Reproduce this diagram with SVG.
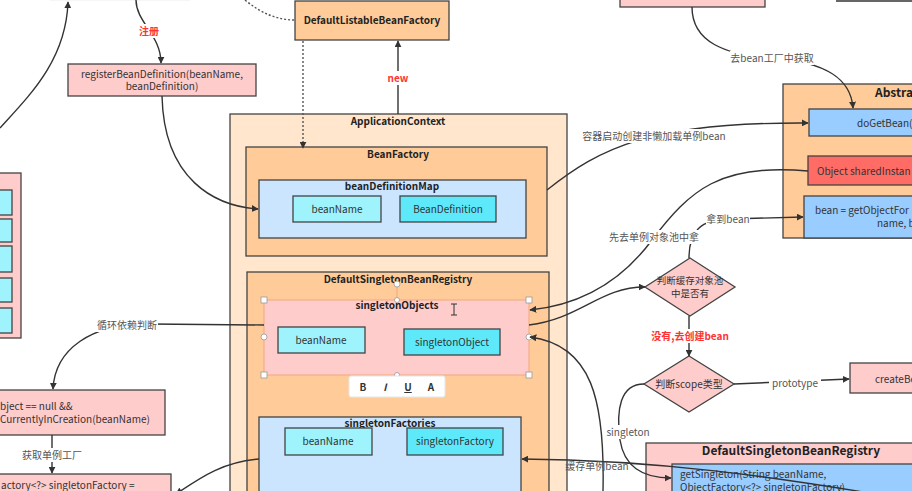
<svg xmlns="http://www.w3.org/2000/svg" width="912" height="491" viewBox="0 0 912 491">
<defs>
<marker id="arr" viewBox="0 0 10 10" refX="9" refY="5" markerWidth="7" markerHeight="7" orient="auto-start-reverse" markerUnits="userSpaceOnUse">
<path d="M0,0 L10,5 L0,10 Z" fill="#333"/>
</marker>
<style>
text{font-family:"Noto Sans CJK SC","Open Sans",sans-serif;font-size:10px;fill:#333}
.b{font-weight:bold;fill:#222}
.red{fill:#ff3333;font-weight:bold}
.lbl{fill:#555}
.box{stroke:#444;stroke-width:1.3}
.ac{fill:#ffe6cc}
.or{fill:#ffcc99}
.lb{fill:#cce5ff}
.pk{fill:#ffcccc}
.cy1{fill:#9ef3fd}
.cy2{fill:#5ee9fb}
.bl{fill:#99ccff}
.rd{fill:#ff6c66}
.e{fill:none;stroke:#333;stroke-width:1.4}
.dot{fill:none;stroke:#555;stroke-width:1.4;stroke-dasharray:2 2}
.bg{fill:#fff}
.h{fill:#fff;stroke:#999;stroke-width:0.8}
.t2{font-size:9.5px}
</style>
</defs>
<rect width="912" height="491" fill="#fff"/>

<!-- nodes -->
<g id="top-left-box"><rect x="50" y="-20" width="140" height="20" fill="#fffbe6" stroke="#eee"/></g>
<g id="top-right-box"><rect class="box pk" x="620" y="-20" width="145" height="27"/></g>

<g id="registerBeanDefinition">
<rect class="box pk" x="68" y="64" width="188" height="32"/>
<text x="162" y="78" text-anchor="middle">registerBeanDefinition(beanName,</text>
<text x="162" y="90" text-anchor="middle">beanDefinition)</text>
</g>

<g id="DefaultListableBeanFactory">
<rect class="box or" x="295" y="1" width="154" height="39"/>
<text class="b" x="372" y="24" text-anchor="middle">DefaultListableBeanFactory</text>
</g>

<g id="ApplicationContext">
<rect class="box ac" x="230" y="114" width="337" height="400"/>
<text class="b" x="398" y="125" text-anchor="middle">ApplicationContext</text>
</g>

<g id="BeanFactory">
<rect class="box or" x="246" y="147" width="301" height="109"/>
<text class="b" x="398" y="158" text-anchor="middle">BeanFactory</text>
</g>

<g id="beanDefinitionMap">
<rect class="box lb" x="259" y="180" width="267" height="58"/>
<text class="b" x="392" y="190" text-anchor="middle">beanDefinitionMap</text>
<rect class="box cy1" x="293" y="196" width="88" height="26"/>
<text x="337" y="213" text-anchor="middle">beanName</text>
<rect class="box cy2" x="400" y="196" width="96" height="26"/>
<text x="448" y="213" text-anchor="middle">BeanDefinition</text>
</g>

<g id="DefaultSingletonBeanRegistry">
<rect class="box or" x="247" y="272" width="302" height="240"/>
<text class="b" x="398" y="283" text-anchor="middle">DefaultSingletonBeanRegistry</text>
</g>

<g id="singletonObjects">
<rect x="264" y="300" width="265" height="75" fill="#ffcccc" stroke="#f0a878" stroke-width="1"/>
<text class="b" x="397" y="309" text-anchor="middle">singletonObjects</text>
<rect class="box cy1" x="278" y="327" width="87" height="26"/>
<text x="321" y="344" text-anchor="middle">beanName</text>
<rect class="box cy2" x="404" y="329" width="96" height="26"/>
<text x="452" y="346" text-anchor="middle">singletonObject</text>
<line x1="397" y1="284" x2="397" y2="300" stroke="#f0a878" stroke-width="1"/>
<circle class="h" cx="397" cy="284" r="3"/>
<rect class="h" x="261" y="297" width="6" height="6"/>
<rect class="h" x="526" y="297" width="6" height="6"/>
<rect class="h" x="261" y="372" width="6" height="6"/>
<rect class="h" x="526" y="372" width="6" height="6"/>
<circle class="h" cx="264" cy="337" r="3"/>
<circle class="h" cx="529" cy="337" r="3"/>
<circle class="h" cx="397" cy="300" r="2.5"/>
<circle class="h" cx="397" cy="375" r="2.5"/>
<path d="M451,304 L457,304 M454,304 L454,315 M451,315 L457,315" stroke="#333" stroke-width="1" fill="none"/>
</g>

<g id="toolbar">
<rect x="349" y="376" width="96" height="21" rx="2" fill="#fff" stroke="#e6e6e6"/>
<text x="363" y="391" text-anchor="middle" style="font-weight:bold;font-size:10px">B</text>
<text x="385" y="391" text-anchor="middle" style="font-style:italic;font-weight:bold;font-size:10px">I</text>
<text x="408" y="391" text-anchor="middle" style="text-decoration:underline;font-weight:bold;font-size:10px">U</text>
<text x="431" y="391" text-anchor="middle" style="font-weight:bold;font-size:10px">A</text>
</g>

<g id="singletonFactories">
<rect class="box lb" x="259" y="417" width="262" height="90"/>
<text class="b" x="390" y="427" text-anchor="middle">singletonFactories</text>
<rect class="box cy1" x="285" y="428" width="87" height="27"/>
<text x="328" y="445" text-anchor="middle">beanName</text>
<rect class="box cy2" x="407" y="428" width="96" height="27"/>
<text x="455" y="445" text-anchor="middle">singletonFactory</text>
</g>

<g id="left-list">
<rect class="box pk" x="-10" y="173" width="31" height="165"/>
<rect class="box cy1" x="-10" y="190" width="22" height="25"/>
<rect class="box cy1" x="-10" y="219" width="22" height="23"/>
<rect class="box cy1" x="-10" y="246" width="22" height="26"/>
<rect class="box cy1" x="-10" y="278" width="22" height="24"/>
<rect class="box cy1" x="-10" y="308" width="22" height="25"/>
</g>

<g id="condition">
<rect class="box pk" x="-10" y="390" width="175" height="45"/>
<text x="0" y="410">bject == null &amp;&amp;</text>
<text x="0" y="423">CurrentlyInCreation(beanName)</text>
</g>

<g id="singletonFactory-box">
<rect class="box pk" x="-10" y="474" width="181" height="30"/>
<text x="1" y="489">actory&lt;?&gt; singletonFactory =</text>
</g>

<g id="AbstractBeanFactory">
<rect class="box or" x="783" y="84" width="140" height="154"/>
<text class="b" x="875" y="97" style="font-size:12px">Abstra</text>
</g>
<g id="doGetBean">
<rect class="box bl" x="809" y="109" width="110" height="27"/>
<text x="857" y="127">doGetBean(</text>
</g>
<g id="sharedInstance">
<rect class="box rd" x="808" y="156" width="110" height="29"/>
<text x="817" y="175">Object sharedInstan</text>
</g>
<g id="getObjectFor">
<rect class="box bl" x="804" y="196" width="115" height="42"/>
<text x="815" y="214">bean = getObjectFor</text>
<text x="877" y="227">name, b</text>
</g>

<g id="diamond-cache">
<path class="box pk" d="M690,258 L735,287 L690,316 L645,287 Z"/>
<text class="t2" x="690" y="284" text-anchor="middle">判断缓存对象池</text>
<text class="t2" x="690" y="297" text-anchor="middle">中是否有</text>
</g>

<g id="diamond-scope">
<path class="box pk" d="M689,356 L734,384 L689,412 L644,384 Z"/>
<text x="689" y="388" text-anchor="middle">判断scope类型</text>
</g>

<g id="createBean">
<rect class="box pk" x="850" y="363" width="70" height="30"/>
<text x="875" y="383">createBe</text>
</g>

<g id="DefaultSingletonBeanRegistry-right">
<rect class="box pk" x="646" y="443" width="280" height="60"/>
<text class="b" x="791" y="455" text-anchor="middle" style="font-size:12px">DefaultSingletonBeanRegistry</text>
<rect class="box bl" x="672" y="464" width="250" height="40"/>
<text x="680" y="478">getSingleton(String beanName,</text>
<text x="680" y="491">ObjectFactory&lt;?&gt; singletonFactory)</text>
</g>

<!-- connectors -->
<g id="connectors">
<path class="e" d="M0,128 C30,95 66,60 68,2" marker-end="url(#arr)"/>
<path class="e" d="M136,0 C136,22 161,35 161,63" marker-end="url(#arr)"/>
<path class="dot" d="M245,0 C262,14 278,20 295,20"/>
<path class="e" d="M162,96 C164,180 215,206 258,209" marker-end="url(#arr)"/>
<path class="dot" d="M303,41 L303,148" marker-end="url(#arr)"/>
<path class="e" d="M398,114 L398,41" marker-end="url(#arr)"/>
<path class="e" d="M547,190 C600,148 650,122 808,123" marker-end="url(#arr)"/>
<path class="e" d="M692,7 C692,42 725,55 772,58 C828,62 851,80 853,108" marker-end="url(#arr)"/>
<path class="e" d="M808,171 C720,163 690,190 652,240 C615,290 570,306 530,310" marker-end="url(#arr)"/>
<path class="e" d="M529,325 C580,319 600,287 645,287" marker-end="url(#arr)"/>
<path class="e" d="M689,258 C689,232 700,219 730,219 L803,217" marker-end="url(#arr)"/>
<path class="e" d="M689,316 L689,356" marker-end="url(#arr)"/>
<path class="e" d="M734,384 L849,379" marker-end="url(#arr)"/>
<path class="e" d="M644,384 C620,384 616,410 620,440 C625,472 650,478 671,478" marker-end="url(#arr)"/>
<path class="e" d="M875,494 C780,478 660,460 522,459" marker-end="url(#arr)"/>
<path class="e" d="M603,491 C605,400 592,345 530,337" marker-end="url(#arr)"/>
<path class="e" d="M264,325 L150,324 C90,323 55,350 53,389" marker-end="url(#arr)"/>
<path class="e" d="M52,435 L52,473" marker-end="url(#arr)"/>
<path class="e" d="M259,459 C222,462 200,478 176,494" marker-end="url(#arr)"/>
<path class="e" d="M836,1 L912,1"/>

<rect class="bg" x="138" y="24" width="22" height="14"/>
<text class="red" x="149" y="35" text-anchor="middle">注册</text>
<rect class="bg" x="386" y="71" width="24" height="14"/>
<text class="red" x="398" y="82" text-anchor="middle">new</text>
<rect class="bg" x="570" y="129" width="168" height="14"/>
<text class="lbl" x="654" y="140" text-anchor="middle">容器启动创建非懒加载单例bean</text>
<rect class="bg" x="730" y="51" width="84" height="14"/>
<text class="lbl" x="772" y="62" text-anchor="middle">去bean工厂中获取</text>
<rect class="bg" x="605" y="230" width="100" height="14"/>
<text class="lbl" x="654" y="241" text-anchor="middle">先去单例对象池中拿</text>
<rect class="bg" x="706" y="212" width="44" height="14"/>
<text class="lbl" x="728" y="223" text-anchor="middle">拿到bean</text>
<rect class="bg" x="651" y="329" width="78" height="14"/>
<text class="red" x="690" y="340" text-anchor="middle">没有,去创建bean</text>
<rect class="bg" x="769" y="376" width="52" height="14"/>
<text class="lbl" x="795" y="387" text-anchor="middle">prototype</text>
<rect class="bg" x="606" y="425" width="44" height="14"/>
<text class="lbl" x="628" y="436" text-anchor="middle">singleton</text>
<text class="lbl" x="597" y="470" text-anchor="middle">缓存单例bean</text>
<rect class="bg" x="96" y="318" width="62" height="14"/>
<text class="lbl" x="127" y="329" text-anchor="middle">循环依赖判断</text>
<rect class="bg" x="22" y="448" width="60" height="14"/>
<text class="lbl" x="52" y="459" text-anchor="middle">获取单例工厂</text>
</g>
</svg>
